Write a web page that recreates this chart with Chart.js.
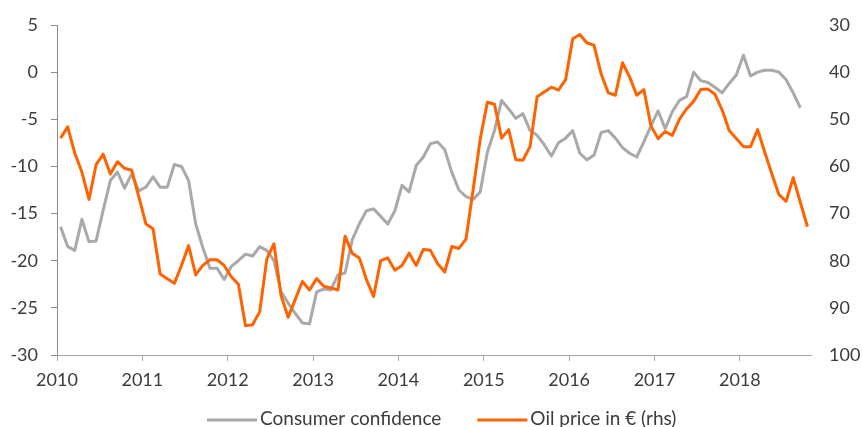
<!DOCTYPE html>
<html>
<head>
<meta charset="utf-8">
<script src="https://cdn.jsdelivr.net/npm/chart.js@4.4.0/dist/chart.umd.min.js"></script>
<style>
  html, body { margin: 0; padding: 0; background: #fff; }
</style>
</head>
<body>
<canvas id="chart" width="862" height="427"></canvas>
<script>
// monthly data, Jan 2010 onwards
const years = [2010, 2011, 2012, 2013, 2014, 2015, 2016, 2017, 2018];
const monthsShown = 106; // axis runs to end of Oct 2018

const consumerConfidence = [
  -16.4, -18.5, -18.9, -15.6, -18.0, -17.9, -14.6, -11.5, -10.6, -12.3, -10.8, -12.6,
  -12.2, -11.1, -12.2, -12.2, -9.8, -10.0, -11.5, -16.1, -18.6, -20.8, -20.8, -22.0,
  -20.6, -20.0, -19.3, -19.5, -18.5, -18.9, -20.0, -23.3, -24.5, -25.6, -26.6, -26.7,
  -23.3, -23.0, -23.1, -21.5, -21.3, -17.8, -16.1, -14.7, -14.5, -15.3, -16.1, -14.7,
  -12.0, -12.7, -9.9, -9.0, -7.6, -7.4, -8.2, -10.6, -12.5, -13.2, -13.5, -12.7,
  -8.5, -6.2, -3.0, -3.9, -4.9, -4.4, -6.2, -6.7, -7.7, -8.9, -7.5, -7.0,
  -6.2, -8.6, -9.3, -8.8, -6.4, -6.2, -7.0, -8.0, -8.6, -9.0, -7.4, -5.7,
  -4.1, -6.0, -4.2, -3.0, -2.6, 0.0, -0.9, -1.1, -1.6, -2.2, -1.2, -0.3,
  1.8, -0.4, 0.0, 0.2, 0.2, 0.0, -0.8, -2.2, -3.8
];

const oilPriceEur = [
  54.0, 51.6, 57.2, 61.2, 67.0, 59.6, 57.4, 61.6, 59.0, 60.4, 60.8, 66.4,
  72.2, 73.2, 82.8, 83.8, 84.8, 81.0, 76.8, 83.0, 81.0, 79.8, 79.8, 81.0,
  83.4, 85.0, 93.8, 93.6, 90.8, 79.6, 76.4, 87.4, 92.0, 88.2, 84.4, 86.2,
  83.8, 85.4, 85.8, 86.2, 74.8, 78.4, 79.4, 84.0, 87.6, 80.0, 79.4, 82.0,
  81.0, 78.4, 81.0, 77.6, 77.8, 80.6, 82.4, 77.0, 77.4, 75.4, 65.0, 54.2,
  46.4, 46.8, 54.0, 52.2, 58.6, 58.7, 55.8, 45.2, 44.2, 43.2, 43.8, 41.6,
  32.9, 32.0, 33.8, 34.3, 40.4, 44.4, 44.9, 38.0, 41.0, 44.9, 43.7, 51.4,
  54.1, 52.6, 53.4, 50.0, 47.8, 46.2, 43.7, 43.6, 44.7, 48.0, 52.4, 54.1,
  55.8, 55.8, 52.2, 57.0, 61.6, 66.0, 67.4, 62.4, 67.6, 72.8
];

const seriesNames = ['Consumer confidence', 'Oil price in € (rhs)'];
const seriesColors = ['#a9a9a9', '#ff6200'];

// plot each month at its middle
const toPoints = arr => arr.map((v, i) => ({ x: i + 0.5, y: v }));

const fontFamily = 'Lato, "DejaVu Sans", sans-serif';
const textColor = '#3c3c3c';

// legend drawn under the axis: line sample + label
const bottomLegend = {
  id: 'bottomLegend',
  afterDraw(chart) {
    const ctx = chart.ctx;
    ctx.save();
    ctx.font = '19px ' + fontFamily;
    ctx.textBaseline = 'alphabetic';
    ctx.fillStyle = textColor;
    let x = 207;
    chart.data.datasets.forEach(ds => {
      ctx.strokeStyle = ds.borderColor;
      ctx.lineWidth = 3;
      ctx.beginPath();
      ctx.moveTo(x, 420);
      ctx.lineTo(x + 50, 420);
      ctx.stroke();
      ctx.fillText(ds.label, x + 53, 425);
      x += 53 + ctx.measureText(ds.label).width + 36;
    });
    ctx.restore();
  }
};

new Chart(document.getElementById('chart'), {
  type: 'line',
  data: {
    datasets: [
      {
        label: seriesNames[0],
        data: toPoints(consumerConfidence),
        borderColor: seriesColors[0],
        borderWidth: 3,
        yAxisID: 'y',
        order: 2
      },
      {
        label: seriesNames[1],
        data: toPoints(oilPriceEur),
        borderColor: seriesColors[1],
        borderWidth: 3,
        yAxisID: 'y2',
        order: 1
      }
    ]
  },
  options: {
    responsive: false,
    animation: false,
    layout: { padding: { top: 25, bottom: 27, left: 0, right: 0 } },
    elements: {
      point: { radius: 0 },
      line: { tension: 0, fill: false, borderJoinStyle: 'round' }
    },
    scales: {
      x: {
        type: 'linear',
        min: 0,
        max: monthsShown,
        afterBuildTicks: axis => {
          axis.ticks = years.map((yr, k) => ({ value: k * 12 }));
        },
        afterFit: axis => { axis.height = 45; },
        ticks: {
          autoSkip: false,
          maxRotation: 0,
          padding: 8,
          color: textColor,
          font: { family: fontFamily, size: 18 },
          callback: v => years[v / 12]
        },
        grid: {
          drawOnChartArea: false,
          drawTicks: true,
          tickLength: 6,
          color: '#a6a6a6'
        },
        border: { color: '#a6a6a6', width: 1 }
      },
      y: {
        position: 'left',
        min: -30,
        max: 5,
        afterFit: axis => { axis.width = 57; },
        ticks: {
          stepSize: 5,
          padding: 13,
          color: textColor,
          font: { family: fontFamily, size: 18 }
        },
        grid: {
          drawOnChartArea: false,
          drawTicks: true,
          tickLength: 6,
          color: '#8c8c8c'
        },
        border: { color: '#8c8c8c', width: 1 }
      },
      y2: {
        position: 'right',
        reverse: true,
        min: 30,
        max: 100,
        afterFit: axis => { axis.width = 51; },
        ticks: {
          stepSize: 10,
          padding: 0,
          color: textColor,
          font: { family: fontFamily, size: 18 }
        },
        // invisible tick marks give the gap before the labels
        grid: {
          drawOnChartArea: false,
          drawTicks: true,
          tickLength: 18,
          color: 'rgba(0,0,0,0)'
        },
        border: { display: false }
      }
    },
    plugins: {
      legend: { display: false },
      tooltip: { enabled: false }
    }
  },
  plugins: [bottomLegend]
});
</script>
</body>
</html>
